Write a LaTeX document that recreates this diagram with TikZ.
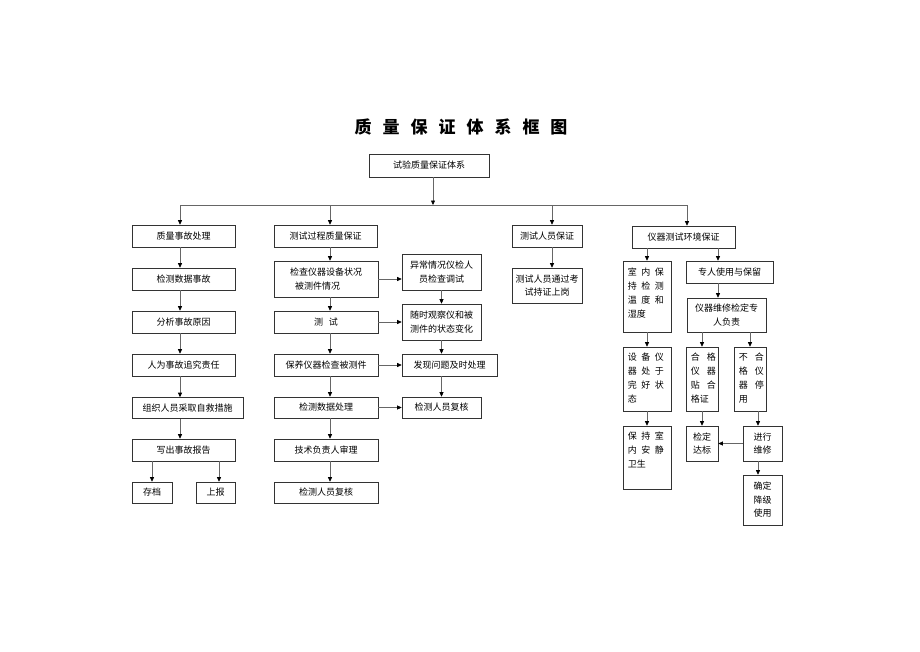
\documentclass[tikz,border=0pt]{standalone}
\usepackage{fontspec}
\setmainfont{Noto Sans CJK SC}
\usetikzlibrary{arrows.meta}
\newcommand\myg{\hspace{4.5pt}}
\newcommand\myG{\hspace{7pt}}
\begin{document}
\begin{tikzpicture}[x=1pt,y=-1pt,
 box/.style={draw=black!80,line width=0.6pt,inner sep=0pt,font=\fontsize{9}{13.5}\selectfont,align=center},
 arr/.style={draw=black!60,line width=0.6pt,-{Triangle[length=4.5pt,width=4pt,color=black]}},
 ln/.style={draw=black!60,line width=0.6pt},
 lbl/.style={anchor=north west,inner sep=0pt,font=\fontsize{9}{14}\selectfont,align=left}]
\useasboundingbox[fill=white] (0,0) rectangle (920,651);

% title
\node[font=\fontsize{17}{17}\selectfont\bfseries] (title) at (461,127)
 {质\hspace{11pt}量\hspace{11pt}保\hspace{11pt}证\hspace{11pt}体\hspace{11pt}系\hspace{11pt}框\hspace{11pt}图};

% top
\node[box,minimum width=120pt,minimum height=23pt] (top) at (429,165.5) {试验质量保证体系};

% level 2
\node[box,minimum width=103pt,minimum height=22pt] (a0) at (183.5,236) {质量事故处理};
\node[box,minimum width=103pt,minimum height=22pt] (b0) at (325.5,236) {测试过程质量保证};
\node[box,minimum width=70pt,minimum height=22pt] (c0) at (547,236) {测试人员保证};
\node[box,minimum width=103pt,minimum height=22pt] (d0) at (683.5,237) {仪器测试环境保证};

% column A
\node[box,minimum width=103pt,minimum height=22pt] (a1) at (183.5,279) {检测数据事故};
\node[box,minimum width=103pt,minimum height=22pt] (a2) at (183.5,322) {分析事故原因};
\node[box,minimum width=103pt,minimum height=22pt] (a3) at (183.5,365) {人为事故追究责任};
\node[box,minimum width=111pt,minimum height=21pt] (a4) at (187.5,408) {组织人员采取自救措施};
\node[box,minimum width=103pt,minimum height=22pt] (a5) at (183.5,450) {写出事故报告};
\node[box,minimum width=40pt,minimum height=21pt] (a6) at (152,492.5) {存档};
\node[box,minimum width=39pt,minimum height=21pt] (a7) at (215.5,492.5) {上报};

% column B
\node[box,minimum width=104pt,minimum height=36pt,align=left] (b1) at (326,279) {检查仪器设备状况\\\hspace{5pt}被测件情况};
\node[box,minimum width=104pt,minimum height=22pt] (b2) at (326,322) {测\hspace{6pt}试};
\node[box,minimum width=104pt,minimum height=22pt] (b3) at (326,365) {保养仪器检查被测件};
\node[box,minimum width=104pt,minimum height=21pt] (b4) at (326,407.5) {检测数据处理};
\node[box,minimum width=104pt,minimum height=22pt] (b5) at (326,450) {技术负责人审理};
\node[box,minimum width=104pt,minimum height=21pt] (b6) at (326,492.5) {检测人员复核};

% column E
\node[box,minimum width=79pt,minimum height=36pt] (e1) at (441.5,272) {异常情况仪检人\\员检查调试};
\node[box,minimum width=79pt,minimum height=36pt] (e2) at (441.5,322) {随时观察仪和被\\测件的状态变化};
\node[box,minimum width=95pt,minimum height=22pt] (e3) at (449.5,365) {发现问题及时处理};
\node[box,minimum width=79pt,minimum height=21pt] (e4) at (441.5,407.5) {检测人员复核};

% column C
\node[box,minimum width=70pt,minimum height=35pt] (c1) at (547,285.5) {测试人员通过考\\试持证上岗};

% column D
\node[box,minimum width=48pt,minimum height=71pt] (d1) at (647,296.5) {};
\node[lbl] (d1t) at ([xshift=5pt,yshift=-7pt]d1.north west) {室\myg 内\myg 保\\持\myg 检\myg 测\\温\myg 度\myg 和\\湿度};
\node[box,minimum width=87pt,minimum height=22pt] (d2) at (729.5,272) {专人使用与保留};
\node[box,minimum width=79pt,minimum height=34pt] (d3) at (726.5,315) {仪器维修检定专\\人负责};
\node[box,minimum width=48pt,minimum height=64pt] (d4) at (647,379) {};
\node[lbl] (d4t) at ([xshift=5pt,yshift=-6pt]d4.north west) {设\myg 备\myg 仪\\器\myg 处\myg 于\\完\myg 好\myg 状\\态};
\node[box,minimum width=32pt,minimum height=64pt] (d5) at (702,379) {};
\node[lbl] (d5t) at ([xshift=5pt,yshift=-6pt]d5.north west) {合\myG 格\\仪\myG 器\\贴\myG 合\\格证};
\node[box,minimum width=32pt,minimum height=64pt] (d6) at (750,379) {};
\node[lbl] (d6t) at ([xshift=5pt,yshift=-6pt]d6.north west) {不\myG 合\\格\myG 仪\\器\myG 停\\用};
\node[box,minimum width=48pt,minimum height=63pt] (d7) at (647,457.5) {};
\node[lbl] (d7t) at ([xshift=5pt,yshift=-6pt]d7.north west) {保\myg 持\myg 室\\内\myg 安\myg 静\\卫生};
\node[box,minimum width=32pt,minimum height=35pt] (d8) at (702,443.5) {检定\\达标};
\node[box,minimum width=39pt,minimum height=35pt] (d9) at (762.5,443.5) {进行\\维修};
\node[box,minimum width=39pt,minimum height=50pt] (d10) at (762.5,500) {确定\\降级\\使用};

% helper coordinates
\coordinate (xa) at (180,0);
\coordinate (xb) at (330,0);
\coordinate (xc) at (552,0);
\coordinate (xd) at (687,0);
\coordinate (xd2) at (718,0);
\coordinate (xd9) at (758,0);
\coordinate (xa7) at (219,0);
\coordinate (busL) at (180,205);
\coordinate (busR) at (687,205);
\coordinate (busin) at (433,205);

% top connectors
\draw[arr] (top.south -| busin) -- (busin);
\draw[ln] (busL) -- (busR);
\draw[arr] (busL) -- (a0.north -| xa);
\draw[arr] (busL -| xb) -- (b0.north -| xb);
\draw[arr] (busL -| xc) -- (c0.north -| xc);
\draw[arr] (busR) -- (d0.north -| xd);

% column A
\draw[arr] (a0.south -| xa) -- (a1.north -| xa);
\draw[arr] (a1.south -| xa) -- (a2.north -| xa);
\draw[arr] (a2.south -| xa) -- (a3.north -| xa);
\draw[arr] (a3.south -| xa) -- (a4.north -| xa);
\draw[arr] (a4.south -| xa) -- (a5.north -| xa);
\draw[arr] (a5.south -| a6) -- (a6.north);
\draw[arr] (a5.south -| xa7) -- (a7.north -| xa7);

% column B
\draw[arr] (b0.south -| xb) -- (b1.north -| xb);
\draw[arr] (b1.south -| xb) -- (b2.north -| xb);
\draw[arr] (b2.south -| xb) -- (b3.north -| xb);
\draw[arr] (b3.south -| xb) -- (b4.north -| xb);
\draw[arr] (b4.south -| xb) -- (b5.north -| xb);
\draw[arr] (b5.south -| xb) -- (b6.north -| xb);

% B -> E
\draw[arr] (b1.east) -- (b1.east -| e1.west);
\draw[arr] (b2.east) -- (b2.east -| e2.west);
\draw[arr] (b3.east) -- (b3.east -| e3.west);
\draw[arr] (b4.east) -- (b4.east -| e4.west);

% column E
\draw[arr] (e1.south) -- (e2.north);
\draw[arr] (e2.south) -- (e2.south |- e3.north);
\draw[arr] (e3.south -| e4) -- (e4.north);

% column C
\draw[arr] (c0.south -| xc) -- (c1.north -| xc);

% column D
\draw[arr] (d0.south -| d1) -- (d1.north);
\draw[arr] (d0.south -| xd2) -- (d2.north -| xd2);
\draw[arr] (d2.south -| xd2) -- (d3.north -| xd2);
\draw[arr] (d3.south -| d5) -- (d5.north);
\draw[arr] (d3.south -| d6) -- (d6.north);
\draw[arr] (d1.south) -- (d4.north);
\draw[arr] (d4.south) -- (d7.north);
\draw[arr] (d5.south) -- (d8.north);
\draw[arr] (d6.south -| xd9) -- (d9.north -| xd9);
\draw[arr] (d9.west) -- (d8.east);
\draw[arr] (d9.south -| xd9) -- (d10.north -| xd9);
\end{tikzpicture}
\end{document}
